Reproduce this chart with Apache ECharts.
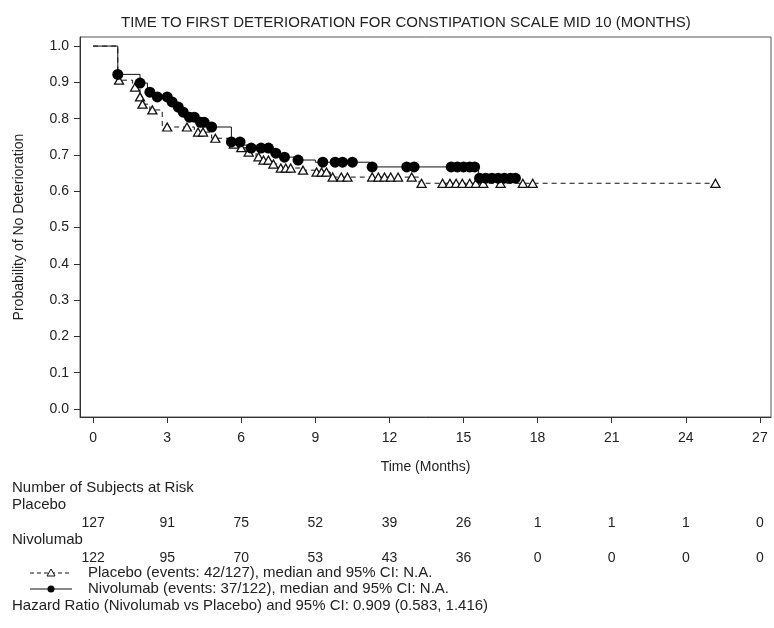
<!DOCTYPE html>
<html>
<head>
<meta charset="utf-8">
<script src="https://cdn.jsdelivr.net/npm/echarts@6/dist/echarts.min.js"></script>
<style>
  html, body { margin: 0; padding: 0; background: #fff; }
  #main { width: 774px; height: 628px; }
</style>
</head>
<body>
<div id="main"></div>
<script>
// step curves [months, probability]
var placeboCurve = [
  [0, 1], [1.0, 0.906], [1.6, 0.887], [1.9, 0.86], [2.0, 0.84], [2.3, 0.824],
  [2.8, 0.777], [4.1, 0.763], [4.8, 0.746], [5.6, 0.73], [5.9, 0.72], [6.2, 0.708],
  [6.6, 0.695], [6.8, 0.686], [7.2, 0.675], [7.5, 0.664], [8.4, 0.658], [9.0, 0.653],
  [9.6, 0.639], [13.2, 0.622], [25.2, 0.622]
]
var nivoCurve = [
  [0, 1], [1.0, 0.922], [1.9, 0.898], [2.2, 0.873], [2.4, 0.86], [3.1, 0.846],
  [3.4, 0.832], [3.6, 0.818], [3.8, 0.804], [4.2, 0.79], [4.6, 0.777], [5.6, 0.736],
  [6.0, 0.727], [6.4, 0.719], [7.3, 0.705], [7.6, 0.694], [8.2, 0.686], [9.0, 0.68],
  [11.2, 0.667], [15.6, 0.636], [17.1, 0.636]
]
// censored observations
var placeboCensor = [
  [1.05, 0.906], [1.7, 0.887], [1.9, 0.86], [2.0, 0.84], [2.4, 0.824], [3.0, 0.777],
  [3.8, 0.777], [4.25, 0.763], [4.45, 0.763], [4.95, 0.746], [5.7, 0.73], [6.0, 0.72],
  [6.3, 0.708], [6.7, 0.695], [6.9, 0.686], [7.1, 0.686], [7.3, 0.675], [7.6, 0.664],
  [7.8, 0.664], [8.0, 0.664], [8.5, 0.658], [9.05, 0.653], [9.25, 0.653], [9.45, 0.653],
  [9.7, 0.639], [10.05, 0.639], [10.3, 0.639], [11.3, 0.639], [11.55, 0.639], [11.8, 0.639],
  [12.05, 0.639], [12.35, 0.639], [12.9, 0.639], [13.3, 0.622], [14.15, 0.622], [14.45, 0.622],
  [14.7, 0.622], [14.95, 0.622], [15.25, 0.622], [15.5, 0.622], [15.8, 0.622], [16.5, 0.622],
  [17.4, 0.622], [17.8, 0.622], [25.2, 0.622]
]
var nivoCensor = [
  [1.0, 0.922], [1.9, 0.898], [2.3, 0.873], [2.6, 0.86], [3.0, 0.86], [3.2, 0.846],
  [3.45, 0.832], [3.65, 0.818], [3.9, 0.804], [4.1, 0.804], [4.35, 0.79], [4.5, 0.79],
  [4.8, 0.777], [5.6, 0.736], [5.95, 0.736], [6.4, 0.719], [6.8, 0.719], [7.1, 0.719],
  [7.4, 0.705], [7.75, 0.694], [8.3, 0.686], [9.3, 0.68], [9.8, 0.68], [10.1, 0.68],
  [10.5, 0.68], [11.3, 0.667], [12.7, 0.667], [13.0, 0.667], [14.5, 0.667], [14.75, 0.667],
  [15.0, 0.667], [15.25, 0.667], [15.45, 0.667], [15.65, 0.636], [15.9, 0.636], [16.15, 0.636],
  [16.4, 0.636], [16.65, 0.636], [16.9, 0.636], [17.1, 0.636]
]
// axes + at risk table
var riskTimes = [0, 3, 6, 9, 12, 15, 18, 21, 24, 27]
var placeboRisk = [127, 91, 75, 52, 39, 26, 1, 1, 1, 0]
var nivoRisk = [122, 95, 70, 53, 43, 36, 0, 0, 0, 0]
var yTicks = [0, 0.1, 0.2, 0.3, 0.4, 0.5, 0.6, 0.7, 0.8, 0.9, 1.0]

var FONT = '"Liberation Sans", Arial, sans-serif'
var TXT = '#222'
var chart = echarts.init(document.getElementById('main'))

function riskAxis (counts, offset) {
  return {
    type: 'value',
    position: 'bottom',
    offset: offset,
    min: -0.53,
    max: 27.45,
    axisLine: { show: false },
    axisTick: { show: false },
    splitLine: { show: false },
    axisLabel: {
      customValues: riskTimes,
      margin: 0,
      color: TXT,
      fontSize: 14,
      formatter: function (v) {
        return String(counts[riskTimes.indexOf(v)])
      }
    }
  }
}

var option = {
  animation: false,
  textStyle: { fontFamily: FONT },
  title: {
    text: 'TIME TO FIRST DETERIORATION FOR CONSTIPATION SCALE MID 10 (MONTHS)',
    left: 116,
    top: 10,
    textStyle: { fontSize: 15, fontWeight: 'normal', color: TXT, fontFamily: FONT }
  },
  grid: {
    left: 80, top: 37, right: 3, bottom: 211,
    show: true, borderColor: '#555', borderWidth: 1
  },
  xAxis: [
    {
      type: 'value',
      min: -0.53,
      max: 27.45,
      name: 'Time (Months)',
      nameLocation: 'middle',
      nameGap: 43,
      nameTextStyle: { fontSize: 14, color: TXT },
      axisLine: { show: true, onZero: false, lineStyle: { color: '#333' } },
      axisTick: { customValues: riskTimes, length: 6, lineStyle: { color: '#333' } },
      splitLine: { show: false },
      axisLabel: { customValues: riskTimes, margin: 14, fontSize: 14, color: TXT }
    },
    riskAxis(placeboRisk, 99),
    riskAxis(nivoRisk, 134)
  ],
  yAxis: {
    type: 'value',
    min: -0.022,
    max: 1.025,
    name: 'Probability of No Deterioration',
    nameLocation: 'middle',
    nameGap: 54,
    nameTextStyle: { fontSize: 14, color: TXT },
    axisLine: { show: true, onZero: false, lineStyle: { color: '#333' } },
    axisTick: { customValues: yTicks, length: 6, lineStyle: { color: '#333' } },
    splitLine: { show: false },
    axisLabel: {
      customValues: yTicks,
      margin: 11,
      fontSize: 14,
      color: TXT,
      formatter: function (v) { return v.toFixed(1) }
    }
  },
  series: [
    {
      name: 'Placebo',
      type: 'line',
      step: 'end',
      data: placeboCurve,
      symbol: 'none',
      lineStyle: { color: '#111', width: 1, type: [5, 4] },
      z: 2
    },
    {
      name: 'Nivolumab',
      type: 'line',
      step: 'end',
      data: nivoCurve,
      symbol: 'none',
      lineStyle: { color: '#111', width: 1 },
      z: 3
    },
    {
      name: 'Placebo censored',
      type: 'scatter',
      data: placeboCensor,
      symbol: 'triangle',
      symbolSize: [9, 8],
      itemStyle: { color: '#fff', borderColor: '#111', borderWidth: 1.3, opacity: 1 },
      z: 4
    },
    {
      name: 'Nivolumab censored',
      type: 'scatter',
      data: nivoCensor,
      symbol: 'circle',
      symbolSize: 11,
      itemStyle: { color: '#000', opacity: 1 },
      z: 5
    }
  ],
  graphic: [
    { type: 'text', left: 12, top: 480, style: { text: 'Number of Subjects at Risk', fill: TXT, font: '15px ' + FONT } },
    { type: 'text', left: 12, top: 497, style: { text: 'Placebo', fill: TXT, font: '15px ' + FONT } },
    { type: 'text', left: 12, top: 532, style: { text: 'Nivolumab', fill: TXT, font: '15px ' + FONT } },
    { type: 'line', shape: { x1: 30, y1: 573, x2: 72, y2: 573 }, style: { stroke: '#111', lineWidth: 1, lineDash: [4, 3] } },
    { type: 'polygon', shape: { points: [[51, 569], [55, 576], [47, 576]] }, style: { fill: '#fff', stroke: '#111', lineWidth: 1 } },
    { type: 'text', left: 88, top: 565, style: { text: 'Placebo (events: 42/127), median and 95% CI: N.A.', fill: TXT, font: '15px ' + FONT } },
    { type: 'line', shape: { x1: 30, y1: 589, x2: 72, y2: 589 }, style: { stroke: '#111', lineWidth: 1.2 } },
    { type: 'circle', shape: { cx: 51, cy: 589, r: 3.5 }, style: { fill: '#000' } },
    { type: 'text', left: 88, top: 581, style: { text: 'Nivolumab (events: 37/122), median and 95% CI: N.A.', fill: TXT, font: '15px ' + FONT } },
    { type: 'text', left: 12, top: 598, style: { text: 'Hazard Ratio (Nivolumab vs Placebo) and 95% CI: 0.909 (0.583, 1.416)', fill: TXT, font: '15px ' + FONT } }
  ]
}
chart.setOption(option)
</script>
</body>
</html>
